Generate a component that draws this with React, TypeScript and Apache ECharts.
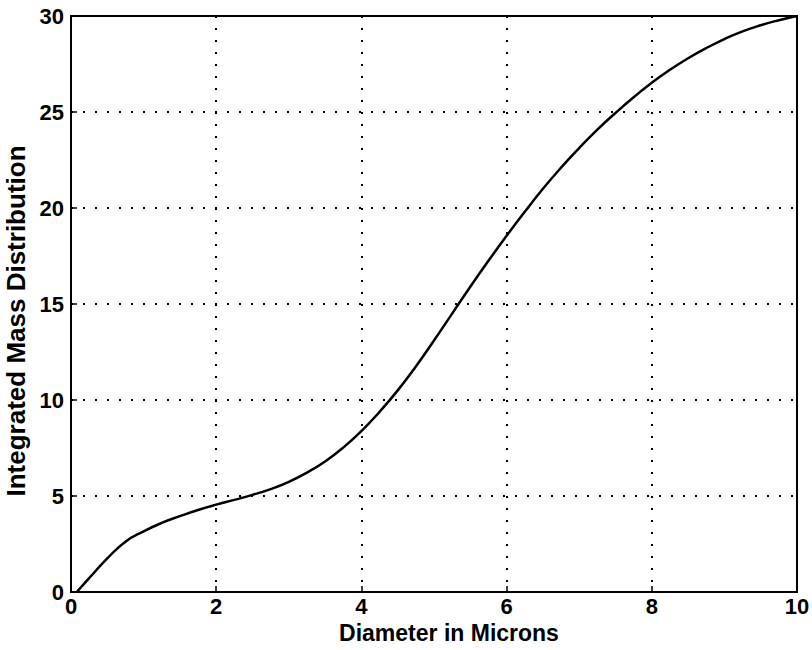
import React, { useEffect, useRef } from "react";
import * as echarts from "echarts";

const diameters = [0.08, 0.25, 0.5, 0.75, 1.0, 1.25, 1.5, 1.75, 2.0, 2.25, 2.5, 2.75, 3.0, 3.25, 3.5, 3.75, 4.0, 4.25, 4.5, 4.75, 5.0, 5.25, 5.5, 5.75, 6.0, 6.25, 6.5, 6.75, 7.0, 7.25, 7.5, 7.75, 8.0, 8.25, 8.5, 8.75, 9.0, 9.25, 9.5, 9.75, 10];
const massValues = [0, 0.72, 1.75, 2.62, 3.16, 3.6, 3.95, 4.27, 4.55, 4.8, 5.06, 5.36, 5.74, 6.22, 6.8, 7.52, 8.38, 9.38, 10.5, 11.75, 13.1, 14.5, 15.9, 17.25, 18.55, 19.8, 21.0, 22.1, 23.12, 24.08, 24.95, 25.77, 26.52, 27.2, 27.8, 28.33, 28.8, 29.2, 29.52, 29.78, 30];
const xTicks = [0, 2, 4, 6, 8, 10];
const yTicks = [0, 5, 10, 15, 20, 25, 30];
const xTitle = "Diameter in Microns";
const yTitle = "Integrated Mass Distribution";

export default function App() {
  const ref = useRef<HTMLDivElement>(null);
  useEffect(() => {
    document.body.style.margin = "0";
    const chart = echarts.init(ref.current!, null, { renderer: "svg" });
    const font = "Liberation Sans, Arial, Helvetica, sans-serif";
    const gridLine = { show: true, lineStyle: { color: "#000", type: [2, 10] as any, width: 2 } };
    chart.setOption({
      animation: false,
      backgroundColor: "#fff",
      grid: {
        left: 71, right: 15, top: 16, bottom: 58,
        outerBoundsMode: "none",
        containLabel: false,
        show: true, borderColor: "#000", borderWidth: 2, backgroundColor: "transparent",
      },
      xAxis: {
        type: "value",
        min: xTicks[0],
        max: xTicks[xTicks.length - 1],
        interval: 2,
        name: xTitle,
        nameLocation: "middle",
        nameGap: 21,
        nameTextStyle: { fontFamily: font, fontSize: 23, color: "#000", fontWeight: "bold", padding: [0, 0, 0, 30] },
        axisLine: { lineStyle: { color: "#000", width: 2 } },
        axisTick: { inside: true, length: 6, lineStyle: { color: "#000", width: 1.5 } },
        axisLabel: { fontFamily: font, fontSize: 22, fontWeight: "bold", color: "#000", margin: 3 },
        splitLine: gridLine,
      },
      yAxis: {
        type: "value",
        min: yTicks[0],
        max: yTicks[yTicks.length - 1],
        interval: 5,
        name: yTitle,
        nameLocation: "middle",
        nameGap: 39,
        nameTextStyle: { fontFamily: font, fontSize: 26, color: "#000", fontWeight: "bold", padding: [0, 34, 0, 0] },
        axisLine: { show: true, lineStyle: { color: "#000", width: 2 } },
        axisTick: { show: true, inside: true, length: 6, lineStyle: { color: "#000", width: 1.5 } },
        axisLabel: { fontFamily: font, fontSize: 22, fontWeight: "bold", color: "#000", margin: 7 },
        splitLine: gridLine,
      },
      series: [
        {
          type: "line",
          data: diameters.map((d, i) => [d, massValues[i]]),
          smooth: true,
          symbol: "none",
          lineStyle: { color: "#000", width: 2.5 },
        },
      ],
    });
    return () => chart.dispose();
  }, []);
  return <div ref={ref} style={{ width: 812, height: 650 }} />;
}
